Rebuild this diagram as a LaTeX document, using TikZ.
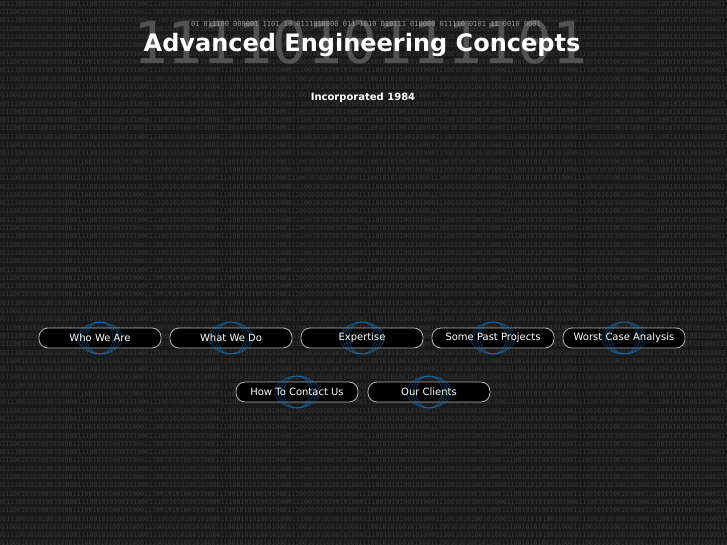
\documentclass[tikz,border=0pt]{standalone}
\usepackage{fontspec}
\setmainfont{DejaVu Sans}
\newfontfamily\monof{DejaVu Sans Mono}
\begin{document}
\begin{tikzpicture}[x=1pt,y=-1pt,
  btn/.style={draw=white!70!black,fill=black,rounded corners=9pt,minimum width=122pt,minimum height=20pt,line width=0.8pt},
  lbl/.style={text=white,font=\fontsize{10}{10}\selectfont},
  ring/.style={draw=cyan!60!blue,line width=0.5pt,opacity=0.6}]
\fill[black!90] (0,0) rectangle (727,545);
\useasboundingbox (0,0) rectangle (727,545);
\clip (0,0) rectangle (727,545);
\foreach \r in {0,...,65}{
  \pgfmathsetmacro{\yy}{4+\r*8.3}
  \pgfmathsetmacro{\xx}{mod(\r,2)==0 ? -2 : -7}
  \node[anchor=west,inner sep=0,text=black!78,font=\monof\fontsize{6.6}{6.6}\selectfont] (bg\r) at (\xx,\yy) {001110010101001010001110010101001010001110010101001010001110010101001010001110010101001010001110010101001010001110010101001010001110010101001010001110010101001010001110010101001010001110010101};
}
\node[text=black!68,font=\monof\fontsize{58}{58}\selectfont] (ghost) at (360,42) {1111010111101};
\node[text=black!40,font=\monof\fontsize{7}{7}\selectfont] (gl) at (366,24) {01 011100 000001 1101 10 0111010000 011 1010 010111 010000 011110 0101 11 0010 0001};
\node[text=white,font=\bfseries\fontsize{24}{24}\selectfont] (title) at (362,45) {Advanced Engineering Concepts};
\node[text=white,font=\bfseries\fontsize{10}{10}\selectfont] (inc) at (363,98) {Incorporated 1984};
\foreach \n/\x/\y/\t in {a/100/338/Who We Are,b/231/338/What We Do,c/362/338/Expertise,d/493/338/Some Past Projects,e/624/338/Worst Case Analysis,f/297/392/How To Contact Us,g/429/392/Our Clients}{
  \node[btn] (\n) at (\x,\y) {};
  \foreach \w in {13,16,19,22}{\draw[ring] (\n.center) ellipse ({\w pt} and 16pt);}
  \node[lbl] (\n t) at (\n.center) {\t};
}
\end{tikzpicture}
\end{document}
